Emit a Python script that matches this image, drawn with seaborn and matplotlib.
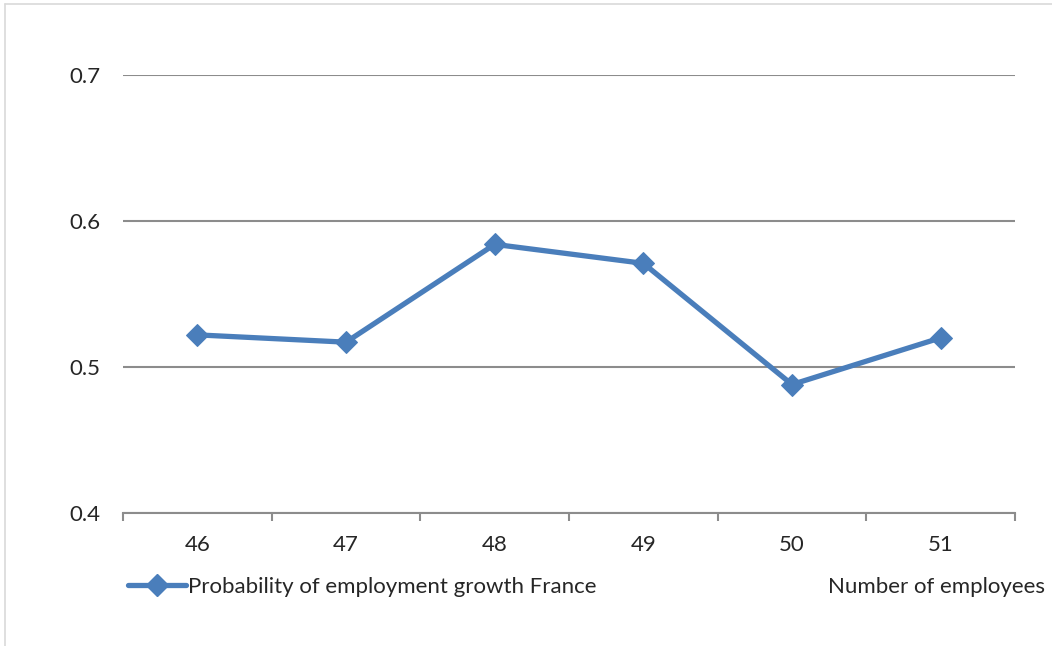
import numpy as np
import pandas as pd
import seaborn as sns
import matplotlib.pyplot as plt
from matplotlib.lines import Line2D

# data
employees = [46, 47, 48, 49, 50, 51]
probability = [0.522, 0.517, 0.584, 0.571, 0.488, 0.520]
y_ticks = [0.4, 0.5, 0.6, 0.7]

SERIES_LABEL = "Probability of employment growth France"
X_TITLE = "Number of employees"
LINE_COLOR = "#4a7ebb"
GRID_COLOR = "#8c8c8c"
FONT = "Lato"
FONT_SIZE = 16


def main():
    df = pd.DataFrame({"employees": employees, "probability": probability})

    sns.set_style("white")
    plt.rcParams["font.family"] = [FONT, "DejaVu Sans"]

    fig = plt.figure(figsize=(10.52, 6.46), dpi=100)
    ax = fig.add_axes([0.1169, 0.2059, 0.848, 0.678])

    sns.lineplot(
        data=df, x="employees", y="probability", ax=ax,
        color=LINE_COLOR, linewidth=3.8, marker="D", markersize=11,
        markeredgecolor=LINE_COLOR, zorder=3,
    )

    # category axis: boundaries as ticks, labels centred between them
    ax.set_xlim(employees[0] - 0.5, employees[-1] + 0.5)
    ax.set_xticks(np.arange(employees[0] - 0.5, employees[-1] + 1, 1.0))
    ax.set_xticklabels([])
    ax.set_xticks(employees, minor=True)
    ax.set_xticklabels([str(e) for e in employees], minor=True, fontsize=FONT_SIZE)
    ax.tick_params(axis="x", which="major", direction="out", length=6,
                   width=1.5, color=GRID_COLOR, bottom=True)
    ax.tick_params(axis="x", which="minor", length=0, pad=16)

    ax.set_ylim(y_ticks[0], y_ticks[-1])
    ax.set_yticks(y_ticks)
    ax.set_yticklabels([f"{t:.1f}" for t in y_ticks], fontsize=FONT_SIZE)
    ax.tick_params(axis="y", length=0, pad=16)
    ax.yaxis.grid(True, color=GRID_COLOR, linewidth=1.5)
    ax.set_axisbelow(True)

    for side in ["left", "right", "top"]:
        ax.spines[side].set_visible(False)
    ax.spines["bottom"].set_color(GRID_COLOR)
    ax.spines["bottom"].set_linewidth(1.5)
    ax.set_xlabel("")
    ax.set_ylabel("")

    handle = Line2D([], [], color=LINE_COLOR, linewidth=3.8, marker="D",
                    markersize=11, markeredgecolor=LINE_COLOR)
    fig.legend([handle], [SERIES_LABEL], loc="center left",
               bbox_to_anchor=(0.103, 0.091), frameon=False, fontsize=FONT_SIZE,
               handlelength=2.6, handletextpad=0.1)
    fig.text(0.787, 0.091, X_TITLE, fontsize=FONT_SIZE, va="center", ha="left")

    # light outer frame of the chart area
    fig.add_artist(Line2D([0.005, 0.005], [0.0, 0.994], color="#d9d9d9",
                          linewidth=1.2, transform=fig.transFigure))
    fig.add_artist(Line2D([0.005, 1.0], [0.994, 0.994], color="#d9d9d9",
                          linewidth=1.2, transform=fig.transFigure))

    fig.savefig("out.png", dpi=100)
    plt.close(fig)


if __name__ == "__main__":
    main()
